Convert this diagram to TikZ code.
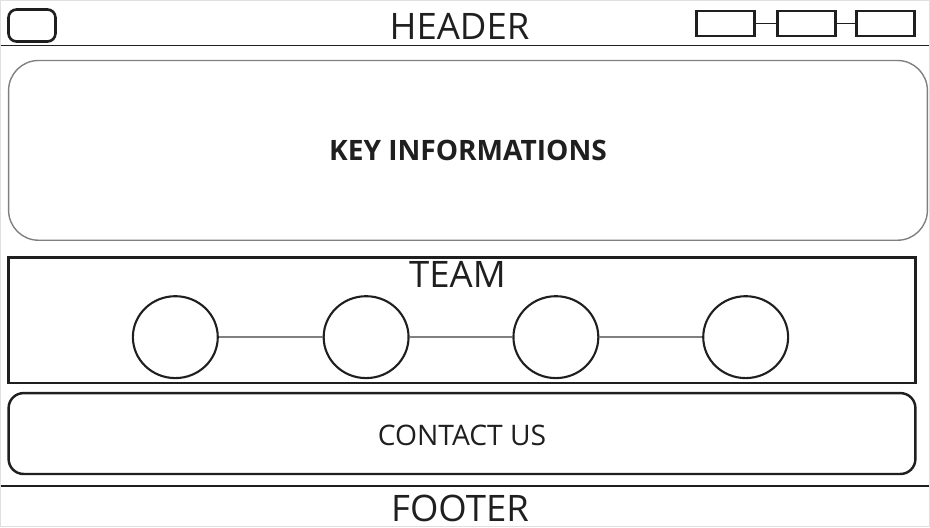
\documentclass[tikz,border=0pt]{standalone}
\usepackage{fontspec}
\setmainfont{Open Sans}
\usetikzlibrary{positioning}
\usetikzlibrary{shapes.geometric}
\colorlet{ColourLine}{black!88}
\colorlet{ColourSoft}{black!50}
\colorlet{ColourFrame}{black!12}
\tikzset{
  page style/.style={
    x=0.02cm, y=-0.02cm,
  },
  title text/.style={
    inner sep=0pt, font=\fontsize{20.8}{22}\selectfont, text=ColourLine
  },
  body text/.style={
    inner sep=0pt, font=\fontsize{16.1}{18}\selectfont, text=ColourLine
  },
  logo box/.style={
    draw=ColourLine, line width=1.5pt, rounded corners=0.16cm,
    minimum width=0.94cm, minimum height=0.64cm, inner sep=0pt
  },
  menu box/.style={
    draw=ColourLine, line width=1.5pt,
    minimum width=1.16cm, minimum height=0.5cm, inner sep=0pt
  },
  menu bond/.style={
    draw=ColourLine, line width=0.7pt,
  },
  rule line/.style={
    draw=ColourLine, line width=0.8pt,
  },
  key box/.style={
    draw=ColourSoft, line width=0.8pt, rounded corners=0.6cm,
    minimum width=18.4cm, minimum height=3.6cm, inner sep=0pt
  },
  team box/.style={
    draw=ColourLine, line width=1.6pt,
    minimum width=18.16cm, minimum height=2.52cm, inner sep=0pt
  },
  member node/.style={
    draw=ColourLine, line width=1.2pt, ellipse,
    minimum width=1.7cm, minimum height=1.64cm, inner sep=0pt
  },
  member bond/.style={
    draw=ColourSoft, line width=0.8pt,
  },
  contact box/.style={
    draw=ColourLine, line width=1.4pt, rounded corners=0.3cm,
    minimum width=18.16cm, minimum height=1.62cm, inner sep=0pt
  },
}

\begin{document}
\begin{tikzpicture}[page style]
  % page frame
  \draw[ColourFrame, line width=0.6pt] (0,0) rectangle (930,527);
  \useasboundingbox (0,0) rectangle (930,527);

  % header
  \node[logo box] (logo) at (31.5,25) {};
  \node[title text] (hdr) at (459.5,26) {HEADER};
  \node[menu box] (b1) at (726,23) {};
  \node[menu box] (b2) at (807,23) {}
    edge[menu bond] (b1);
  \node[menu box] (b3) at (886,23) {}
    edge[menu bond] (b2);
  \coordinate (hl) at (0,45);
  \coordinate (hr) at (930,45);
  \draw[rule line] (hl) -- (hr);

  % key informations
  \node[key box] (key) at (468,150) {};
  \node[body text, font=\fontsize{16}{18}\selectfont\bfseries] (keyt) at (key) {KEY INFORMATIONS};

  % team
  \node[team box] (team) at (462,320) {};
  \node[title text] (teamt) at (457.5,274) {TEAM};
  \foreach \i/\x in {1/175, 2/366, 3/556, 4/746}
    \node[member node] (m\i) at (\x,337) {};
  \foreach \i/\j in {1/2, 2/3, 3/4}
    \draw[member bond] (m\i) -- (m\j);

  % contact
  \node[contact box] (contact) at (462,433.5) {};
  \node[body text] (contactt) at (462,435) {CONTACT US};

  % footer
  \coordinate (fl) at (0,486);
  \coordinate (fr) at (930,486);
  \draw[rule line] (fl) -- (fr);
  \node[title text] (ftr) at (460,508) {FOOTER};
\end{tikzpicture}
\end{document}
